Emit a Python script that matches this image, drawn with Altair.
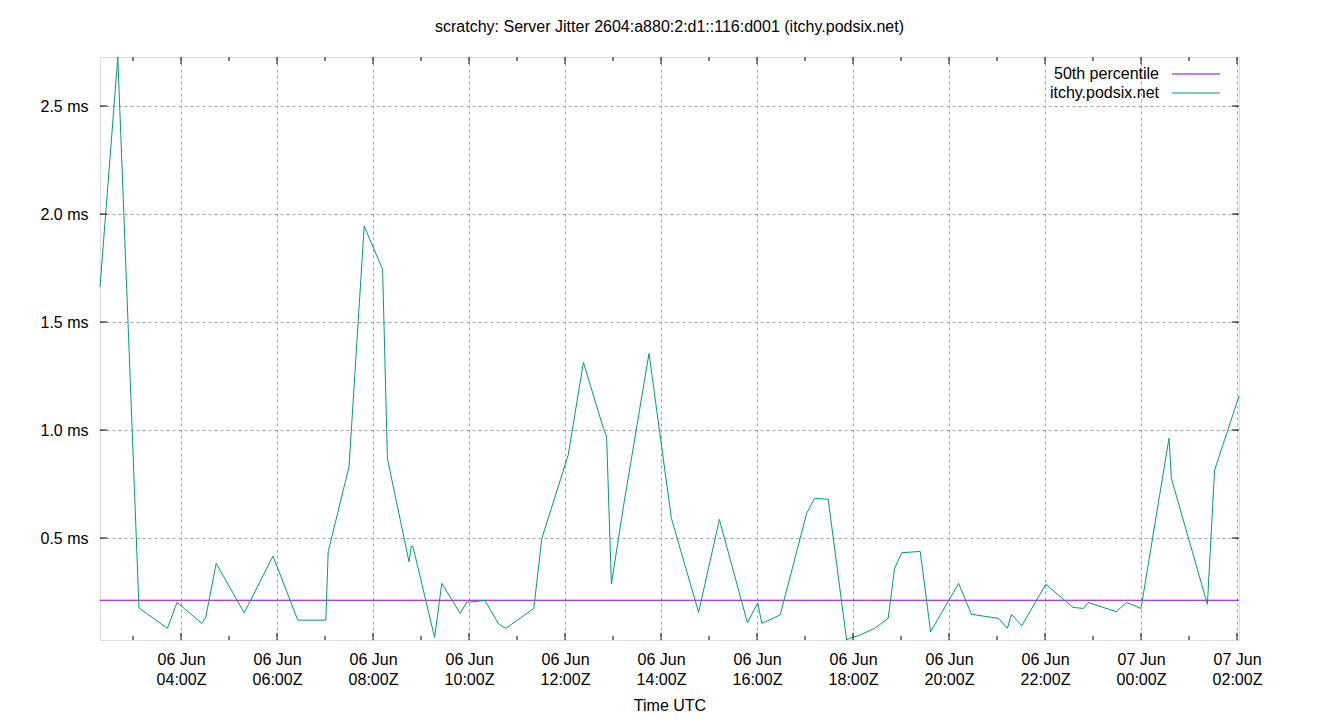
import altair as alt
import pandas as pd

# ---------------- data ----------------
times = [
    "2024-06-06T02:18:45Z", "2024-06-06T02:41:00Z", "2024-06-06T03:07:30Z", "2024-06-06T03:43:00Z",
    "2024-06-06T03:55:00Z", "2024-06-06T04:26:00Z", "2024-06-06T04:31:00Z", "2024-06-06T04:44:00Z",
    "2024-06-06T05:19:00Z", "2024-06-06T05:55:00Z", "2024-06-06T06:26:00Z", "2024-06-06T07:01:00Z",
    "2024-06-06T07:04:00Z", "2024-06-06T07:30:00Z", "2024-06-06T07:49:00Z", "2024-06-06T08:12:00Z",
    "2024-06-06T08:18:00Z", "2024-06-06T08:45:00Z", "2024-06-06T08:48:00Z", "2024-06-06T08:50:00Z",
    "2024-06-06T09:17:00Z", "2024-06-06T09:26:00Z", "2024-06-06T09:49:00Z", "2024-06-06T09:57:00Z",
    "2024-06-06T10:20:00Z", "2024-06-06T10:37:00Z", "2024-06-06T10:46:00Z", "2024-06-06T11:21:00Z",
    "2024-06-06T11:31:00Z", "2024-06-06T12:04:00Z", "2024-06-06T12:23:00Z", "2024-06-06T12:48:00Z",
    "2024-06-06T12:52:00Z", "2024-06-06T12:58:00Z", "2024-06-06T13:13:00Z", "2024-06-06T13:45:00Z",
    "2024-06-06T14:13:00Z", "2024-06-06T14:47:00Z", "2024-06-06T15:13:00Z", "2024-06-06T15:48:00Z",
    "2024-06-06T16:01:00Z", "2024-06-06T16:06:00Z", "2024-06-06T16:29:00Z", "2024-06-06T17:02:00Z",
    "2024-06-06T17:12:00Z", "2024-06-06T17:29:00Z", "2024-06-06T17:52:00Z", "2024-06-06T17:56:00Z",
    "2024-06-06T18:09:00Z", "2024-06-06T18:27:00Z", "2024-06-06T18:44:00Z", "2024-06-06T18:52:00Z",
    "2024-06-06T19:01:00Z", "2024-06-06T19:24:00Z", "2024-06-06T19:37:00Z", "2024-06-06T20:12:00Z",
    "2024-06-06T20:28:00Z", "2024-06-06T21:02:00Z", "2024-06-06T21:13:00Z", "2024-06-06T21:18:00Z",
    "2024-06-06T21:31:00Z", "2024-06-06T22:01:00Z", "2024-06-06T22:35:00Z", "2024-06-06T22:48:00Z",
    "2024-06-06T22:54:00Z", "2024-06-06T23:29:00Z", "2024-06-06T23:42:00Z", "2024-06-07T00:00:00Z",
    "2024-06-07T00:35:00Z", "2024-06-07T00:38:00Z", "2024-06-07T01:23:00Z", "2024-06-07T01:32:00Z",
    "2024-06-07T02:02:30Z",
]
jitter_ms = [
    1.662, 2.727, 0.176, 0.082,
    0.202, 0.105, 0.135, 0.383,
    0.154, 0.417, 0.120, 0.120,
    0.437, 0.830, 1.944, 1.744,
    0.869, 0.390, 0.463, 0.460,
    0.040, 0.290, 0.151, 0.202,
    0.211, 0.102, 0.082, 0.174,
    0.498, 0.884, 1.313, 1.008,
    0.969, 0.287, 0.645, 1.355,
    0.591, 0.156, 0.586, 0.108,
    0.200, 0.105, 0.144, 0.614,
    0.684, 0.679, 0.028, 0.036,
    0.051, 0.082, 0.128, 0.360,
    0.432, 0.438, 0.066, 0.290,
    0.147, 0.128, 0.082, 0.147,
    0.094, 0.286, 0.179, 0.174,
    0.202, 0.159, 0.202, 0.174,
    0.962, 0.776, 0.193, 0.815,
    1.157,
]
p50_ms = [0.212]
y_tick_values = [0.5, 1.0, 1.5, 2.0, 2.5]
legend_labels = ["50th percentile", "itchy.podsix.net"]
series_colors = ["#9400d3", "#009e73"]
title_text = "scratchy: Server Jitter 2604:a880:2:d1::116:d001 (itchy.podsix.net)"
x_title = "Time UTC"

# ---------------- layout / style ----------------
W, H = 1139, 583
FONT = "Liberation Sans"
FS = 16
GRID = dict(grid=True, gridDash=[3, 3], gridColor="#a0a0a0", gridWidth=1, gridOpacity=1)

df = pd.DataFrame({"t": times, "v": jitter_ms})
major = pd.date_range("2024-06-06T04:00Z", "2024-06-07T02:00Z", freq="2h")
minor = pd.date_range("2024-06-06T03:00Z", "2024-06-07T01:00Z", freq="2h")
major_str = [d.strftime("%Y-%m-%dT%H:%M:%SZ") for d in major]
minor_str = [d.strftime("%Y-%m-%dT%H:%M:%SZ") for d in minor]
major_ms = [int(d.timestamp() * 1000) for d in major]

xscale = alt.Scale(type="utc", nice=False)
yscale = alt.Scale(zero=False, nice=False, domain=[min(jitter_ms), max(jitter_ms)])

x_axis = alt.Axis(
    values=major_ms,
    labelExpr="[utcFormat(datum.value, '%d %b'), utcFormat(datum.value, '%H:%MZ')]",
    ticks=False, tickSize=0, domain=False, labelFlush=False, labelOverlap=False,
    labelPadding=11, labelLineHeight=20, labelFont=FONT, labelFontSize=FS, labelColor="black",
    title=x_title, titleFont=FONT, titleFontSize=FS, titleFontWeight="normal", titleColor="black",
    titleY=65, titleBaseline="middle",
    **GRID,
)
y_axis = alt.Axis(
    values=y_tick_values,
    labelExpr="format(datum.value, '.1f') + ' ms'",
    ticks=False, tickSize=0, domain=False, labelPadding=12,
    labelFont=FONT, labelFontSize=FS, labelColor="black", labelBaseline="middle",
    title=None,
    **GRID,
)

median = alt.Chart(pd.DataFrame({"v": p50_ms})).mark_rule(
    color=series_colors[0], strokeWidth=1
).encode(y=alt.Y("v:Q", scale=yscale, axis=y_axis))

line = alt.Chart(df).mark_line(color=series_colors[1], strokeWidth=1).encode(
    x=alt.X("t:T", scale=xscale, axis=x_axis),
    y=alt.Y("v:Q", scale=yscale, axis=y_axis),
)


def xticks(values, length, top):
    d = pd.DataFrame({"t": values})
    if top:
        yy, yy2 = alt.value(0), alt.value(length)
    else:
        yy, yy2 = alt.value(H), alt.value(H - length)
    return alt.Chart(d).mark_rule(color="black", strokeWidth=1).encode(
        x=alt.X("t:T", scale=xscale), y=yy, y2=yy2
    )


def yticks(left):
    d = pd.DataFrame({"v": y_tick_values})
    if left:
        xx, xx2 = alt.value(0), alt.value(7)
    else:
        xx, xx2 = alt.value(W - 7), alt.value(W)
    return alt.Chart(d).mark_rule(color="black", strokeWidth=1).encode(
        y=alt.Y("v:Q", scale=yscale), x=xx, x2=xx2
    )


def legend_entry(i):
    ty = 17 + 19 * i
    txt = alt.Chart(pd.DataFrame({"label": [legend_labels[i]]})).mark_text(
        font=FONT, fontSize=FS, color="black", align="right", baseline="middle"
    ).encode(x=alt.value(1059), y=alt.value(ty), text="label:N")
    sample = alt.Chart(pd.DataFrame({"label": [legend_labels[i]]})).mark_rule(
        color=series_colors[i], strokeWidth=1
    ).encode(x=alt.value(1072), x2=alt.value(1120), y=alt.value(ty))
    return txt + sample


chart = alt.layer(
    median,
    line,
    xticks(major_str, 7, False), xticks(minor_str, 4, False),
    xticks(major_str, 7, True), xticks(minor_str, 4, True),
    yticks(True), yticks(False),
    legend_entry(0), legend_entry(1),
).properties(
    width=W, height=H,
    padding={"left": 92, "top": 49, "right": 93, "bottom": 72},
    autosize=alt.AutoSizeParams(type="none"),
    title=alt.TitleParams(
        text=title_text, font=FONT, fontSize=FS, fontWeight="normal", color="black",
        anchor="middle", offset=12, baseline="middle",
    ),
).configure_view(stroke="black", strokeWidth=1).configure(background="white")

chart.save("out.html", embed_options={"renderer": "svg", "actions": False})
